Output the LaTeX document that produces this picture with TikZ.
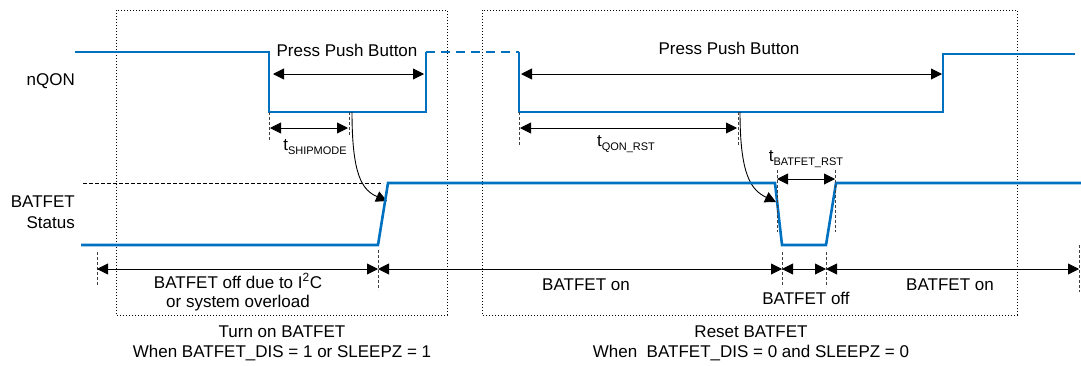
\documentclass[tikz,border=0pt]{standalone}
\usepackage{fontspec}
\setmainfont{Liberation Sans}
\usetikzlibrary{arrows.meta}
\definecolor{sigblue}{RGB}{0,112,192}
\newcommand\tsub[1]{t\raisebox{-4pt}{\fontsize{11}{11}\selectfont #1}}
\begin{document}
\begin{tikzpicture}[x=1pt,y=-1pt,
  sig/.style={draw=sigblue,line width=2.6pt},
  tip/.tip={Triangle[length=11pt,width=11pt]},
  dim/.style={draw=black,line width=0.9pt,tip-tip},
  curv/.style={draw=black,line width=0.9pt,-tip},
  box/.style={draw=black,line width=0.9pt,dash pattern=on 1pt off 2pt},
  guide/.style={draw=black!75,line width=0.8pt,dash pattern=on 3pt off 2pt},
  lbl/.style={font=\fontsize{17}{20}\selectfont,inner sep=0pt,align=center}
]
\useasboundingbox (0,0) rectangle (1081,365);

% dotted boxes
\draw[box] (116,10) rectangle (447,315);
\draw[box] (482,10) rectangle (1017,315);

% nQON signal
\draw[sig] (75,52) -- (269,52) -- (269,112) -- (426,112) -- (426,52);
\draw[sig,dash pattern=on 9pt off 6pt] (426,52) -- (519,52);
\draw[sig] (519,52) -- (519,112) -- (943,112) -- (943,54) -- (1075,54);

% Press push button arrows
\draw[dim] (273,74) -- (424,74);
\node[lbl] (ppb1) at (347,50) {Press Push Button};
\draw[dim] (521,74) -- (942,74);
\node[lbl] (ppb2) at (729,48) {Press Push Button};

% t_SHIPMODE
\draw[guide] (269,112) -- (269,140);
\draw[guide] (349,112) -- (349,135);
\draw[dim] (270,128) -- (348,128);
\node[lbl] (tship) at (315,147) {\tsub{SHIPMODE}};

% t_QON_RST
\draw[guide] (519,112) -- (519,145);
\draw[guide] (738,112) -- (738,145);
\draw[dim] (520,128) -- (737,128);
\node[lbl] (tqon) at (626,144) {\tsub{QON\_RST}};

% curved arrows
\draw[curv] (352,112) .. controls (352,175) and (362,190) .. (387,201);
\draw[curv] (740,112) .. controls (740,175) and (751,190) .. (776,202);

% BATFET status signal
\draw[guide,draw=black,dash pattern=on 4pt off 2pt] (83,183) -- (383,183);
\draw[sig] (81,245) -- (378,245) -- (388,183) -- (775,183) -- (782,245) -- (826,245) -- (836,183) -- (1081,183);

% t_BATFET_RST
\draw[guide] (777,170) -- (777,232);
\draw[guide] (835,170) -- (835,232);
\draw[dim] (777,179) -- (835,179);
\node[lbl] (tbat) at (806,159) {\tsub{BATFET\_RST}};

% bottom dimension line
\draw[guide] (97,252) -- (97,286);
\draw[guide] (378,250) -- (378,290);
\draw[guide] (782,252) -- (782,287);
\draw[guide] (826,252) -- (826,287);
\draw[guide] (1079,245) -- (1079,292);
\draw[dim] (97,269) -- (378,269);
\draw[dim] (378,269) -- (782,269);
\draw[dim] (782,269) -- (826,269);
\draw[dim] (826,269) -- (1079,269);

% signal labels
\node[lbl,anchor=east] (nqon) at (75,81) {nQON};
\node[lbl,anchor=east,align=right,font=\fontsize{17}{21}\selectfont] (bstat) at (75,212) {BATFET\\Status};

% region labels
\node[lbl,font=\fontsize{17}{19}\selectfont] (off1) at (238,292) {BATFET off due to I\textsuperscript{2}C\\or system overload};
\node[lbl] (on1) at (586,285) {BATFET on};
\node[lbl] (off2) at (806,298) {BATFET off};
\node[lbl] (on2) at (950,285) {BATFET on};

% captions
\node[lbl] (cap1) at (282,343) {Turn on BATFET\\When BATFET\_DIS = 1 or SLEEPZ = 1};
\node[lbl] (cap2) at (751,343) {Reset BATFET\\When\ \ BATFET\_DIS = 0 and SLEEPZ = 0};
\end{tikzpicture}
\end{document}
